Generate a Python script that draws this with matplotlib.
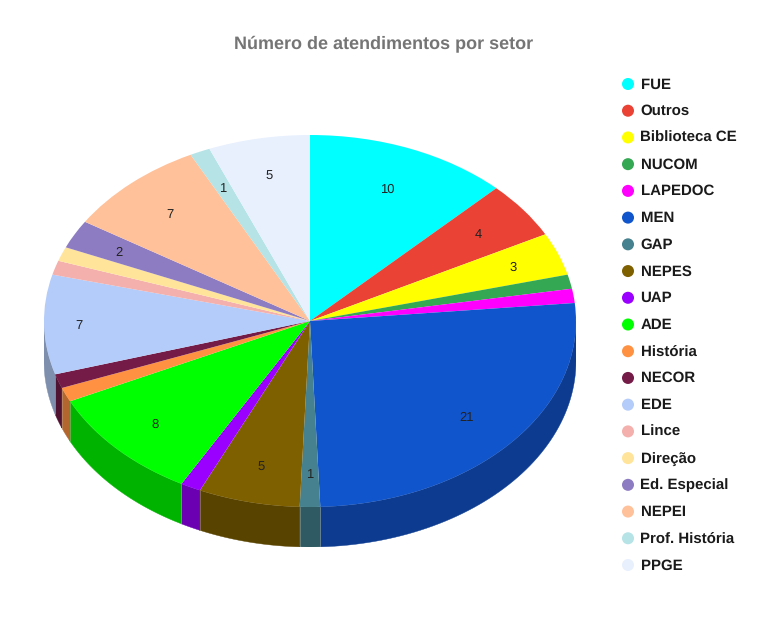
import numpy as np
import matplotlib
matplotlib.use('Agg')
import matplotlib.pyplot as plt
import matplotlib.colors as mcolors

plt.rcParams['font.family'] = ['Liberation Sans', 'DejaVu Sans']
plt.rcParams['text.hinting'] = 'none'
plt.rcParams['text.hinting_factor'] = 1

## DATA

setores = ['FUE', 'Outros', 'Biblioteca CE', 'NUCOM', 'LAPEDOC', 'MEN', 'GAP', 'NEPES', 'UAP', 'ADE',
           'História', 'NECOR', 'EDE', 'Lince', 'Direção', 'Ed. Especial', 'NEPEI', 'Prof. História', 'PPGE']
atendimentos = [10, 4, 3, 1, 1, 21, 1, 5, 1, 8, 1, 1, 7, 1, 1, 2, 7, 1, 5]
cores = ['#00ffff', '#ea4335', '#ffff00', '#34a853', '#ff00ff', '#1155cc', '#45818e', '#7f6000', '#9900ff',
         '#00ff00', '#ff9242', '#741b47', '#b4ccf9', '#f4b0ac', '#ffe49a', '#8e7cc3', '#ffc199', '#b5e3e6', '#e8f0fe']
# slices that carry a number in the picture
com_rotulo = ['FUE', 'Outros', 'Biblioteca CE', 'MEN', 'GAP', 'NEPES', 'ADE', 'EDE', 'Ed. Especial', 'NEPEI',
              'Prof. História', 'PPGE']

W, H = 768, 640
cx, cy, rx, ry, prof = 310, 321, 266, 186, 40

# how far out each number sits, as a fraction of the radius
dist_rotulo = {'FUE': 0.77, 'Outros': 0.79, 'Biblioteca CE': 0.82, 'MEN': 0.78, 'GAP': 0.82, 'NEPES': 0.80,
               'ADE': 0.80, 'EDE': 0.87, 'Ed. Especial': 0.81, 'NEPEI': 0.785, 'Prof. História': 0.79, 'PPGE': 0.80}

fig = plt.figure(figsize=(W / 100, H / 100), dpi=100)

# pie axes, radius 1 stretched to the ellipse
ax = fig.add_axes([(cx - rx) / W, 1 - (cy + ry + prof) / H, 2 * rx / W, (2 * ry + prof) / H])
depth = prof / ry

## SIDE WALL
fatias = np.array(atendimentos, dtype=float)
bordas = np.concatenate([[0], np.cumsum(fatias)]) / fatias.sum() * 2 * np.pi

for i in range(len(fatias)):
    a0 = max(bordas[i], np.pi / 2)
    a1 = min(bordas[i + 1], 3 * np.pi / 2)
    if a1 <= a0:
        continue
    t = np.linspace(a0, a1, 60)
    xs = np.concatenate([np.sin(t), np.sin(t[::-1])])
    ys = np.concatenate([np.cos(t), np.cos(t[::-1]) - depth])
    escuro = np.array(mcolors.to_rgb(cores[i])) * 0.7
    ax.fill(xs, ys, color=escuro, lw=0.3, zorder=1)
    # thin lighter seam between wall segments
    ax.plot([np.sin(a0), np.sin(a0)], [np.cos(a0), np.cos(a0) - depth], color='#c8c8b8', lw=0.4, alpha=0.6, zorder=1.5)

## TOP OF THE PIE
wedges, _ = ax.pie(fatias, colors=cores, startangle=90, counterclock=False, radius=1,
                   center=(0, 0), wedgeprops={'linewidth': 0.3, 'edgecolor': 'none'})
for w in wedges:
    w.set_zorder(2)

for i, nome in enumerate(setores):
    if nome not in com_rotulo:
        continue
    meio = (bordas[i] + bordas[i + 1]) / 2
    d = dist_rotulo[nome]
    # 1.5 px nudge down so the digits sit where the reference has them
    ax.text(d * np.sin(meio), d * np.cos(meio) - 1.5 / ry, str(atendimentos[i]), ha='center', va='center',
            fontsize=9.2, color='#222222', zorder=3)

ax.set_aspect('auto')
ax.set_xlim(-1, 1)
ax.set_ylim(-1 - depth, 1)
ax.axis('off')

## TITLE AND LEGEND, in pixel coordinates
ov = fig.add_axes([0, 0, 1, 1])
ov.set_xlim(0, W)
ov.set_ylim(H, 0)
ov.axis('off')
ov.patch.set_alpha(0)

ov.text(384, 43.5, 'Número de atendimentos por setor', ha='center', va='center', fontsize=13.3,
        fontweight='bold', color='#757575')

ys_leg = np.linspace(84, 565, len(setores))
ov.scatter([628] * len(setores), ys_leg, s=75, c=cores, linewidths=0)
for nome, y in zip(setores, ys_leg):
    ov.text(640.5, y + 0.5, nome, ha='left', va='center', fontsize=10.6, fontweight='bold', color='#1a1a1a')

fig.savefig('out.png', dpi=100, facecolor='white')
